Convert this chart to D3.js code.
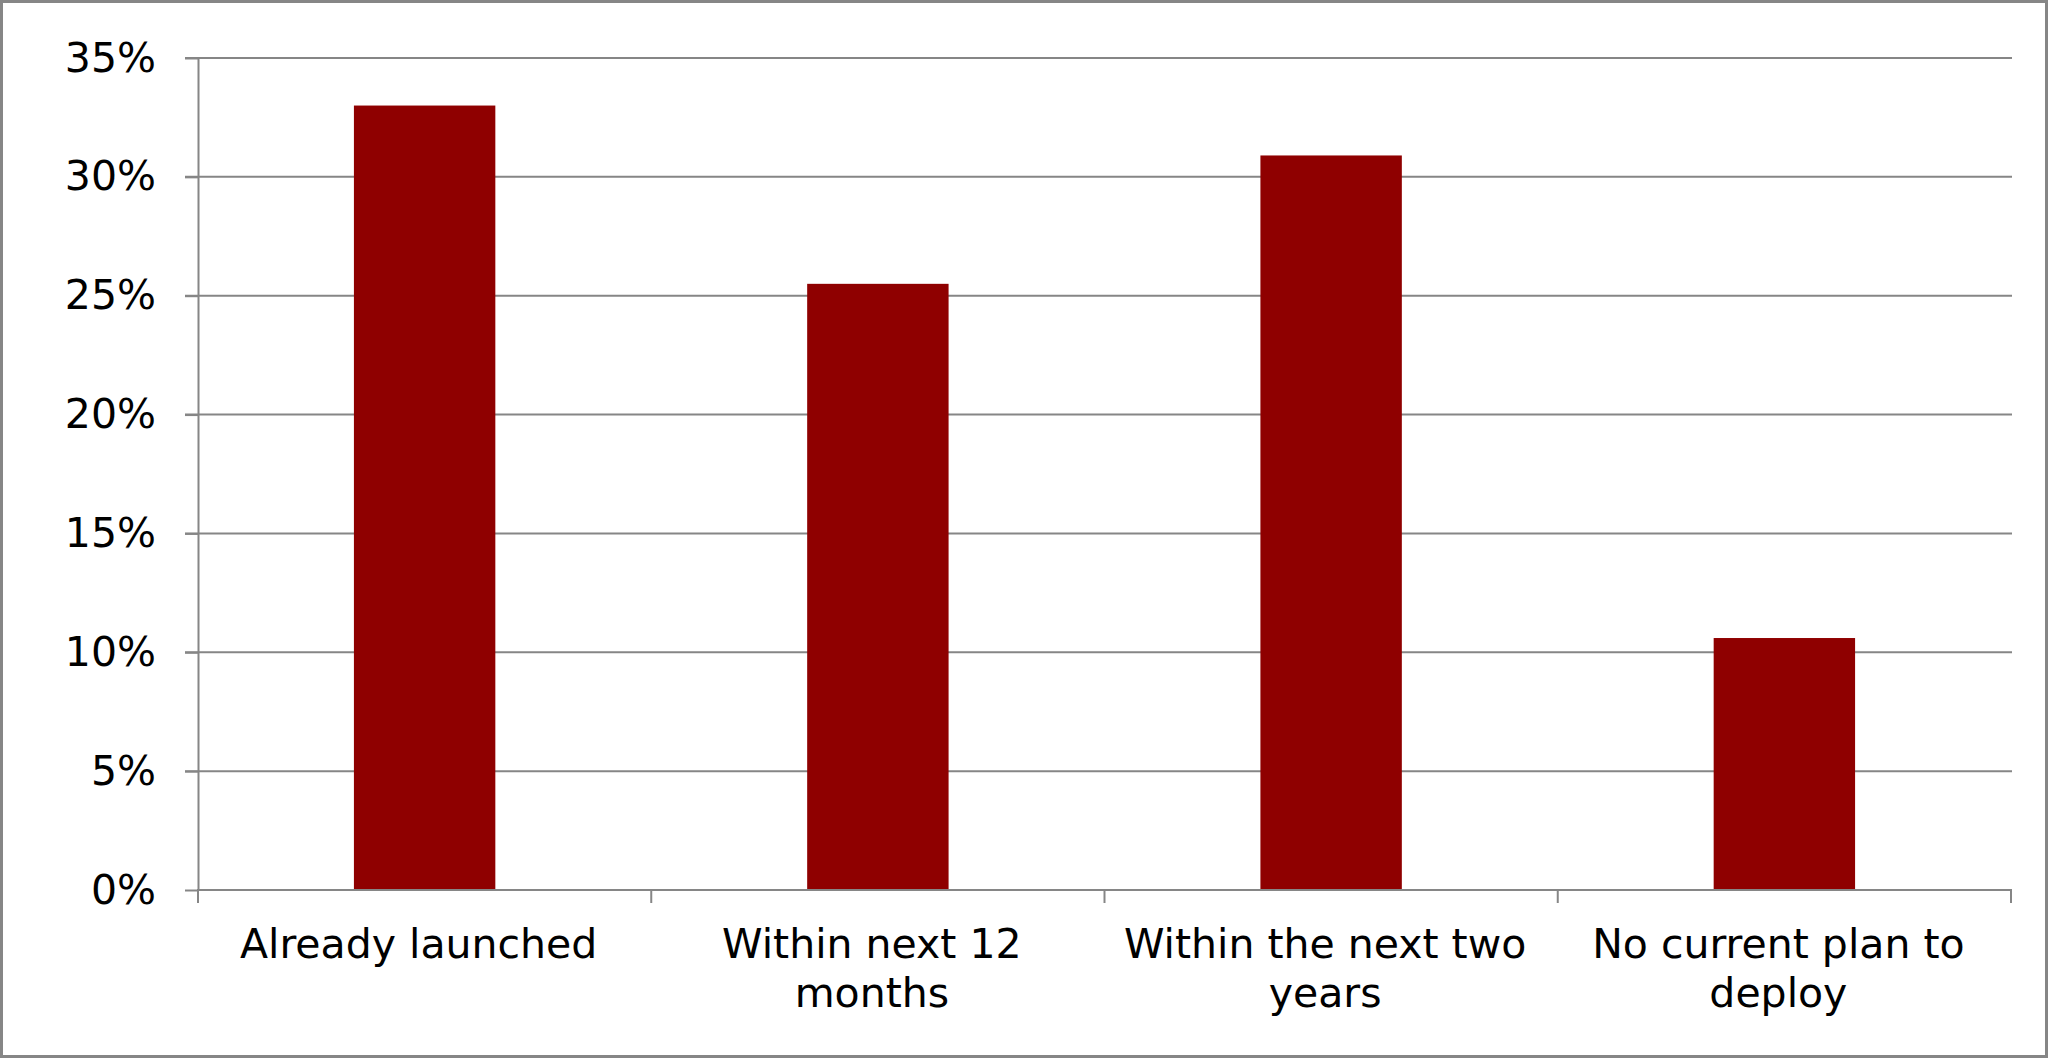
<!DOCTYPE html>
<html>
<head>
<meta charset="utf-8">
<script src="https://cdn.jsdelivr.net/npm/d3@7"></script>
<style>
  html, body { margin: 0; padding: 0; background: #fff; }
  svg { display: block; }
  text { font-family: "DejaVu Sans", Verdana, sans-serif; }
</style>
</head>
<body>
<svg id="chart" width="2048" height="1058"></svg>
<script>
// ---- data ----
const categories = ["Already launched", "Within next 12 months", "Within the next two years", "No current plan to deploy"];
const values = [33.0, 25.5, 30.9, 10.6];
const yTicks = [0, 5, 10, 15, 20, 25, 30, 35];
const yTickLabels = ["0%", "5%", "10%", "15%", "20%", "25%", "30%", "35%"];

(function () {
  // ---- layout ----
  const W = 2048, H = 1058;
  const pLeft = 198, pRight = 2011, pTop = 58, pBottom = 890;
  const gridColor = "#868686";
  const barColor = "#8f0000";
  const fontSize = 41;

  const svg = d3.select("#chart");

  // frame
  svg.append("rect")
    .attr("x", 1.5).attr("y", 1.5)
    .attr("width", W - 3).attr("height", H - 3)
    .attr("fill", "#fff").attr("stroke", "#868686").attr("stroke-width", 3);

  const x = d3.scaleBand().domain(categories).range([pLeft, pRight])
    .paddingInner(0.688).paddingOuter(0.344);
  const y = d3.scaleLinear().domain([0, 35]).range([pBottom, pTop]);

  // gridlines
  svg.append("g").selectAll("line").data(yTicks.filter(d => d > 0)).join("line")
    .attr("x1", pLeft - 13).attr("x2", pRight + 1)
    .attr("y1", d => y(d)).attr("y2", d => y(d))
    .attr("stroke", gridColor).attr("stroke-width", 2);

  // bars
  svg.append("g").selectAll("rect").data(values).join("rect")
    .attr("x", (d, i) => x(categories[i]))
    .attr("y", d => y(d))
    .attr("width", x.bandwidth())
    .attr("height", d => y(0) - y(d))
    .attr("fill", barColor);

  // y axis
  const yAxis = d3.axisLeft(y).tickValues(yTicks).tickSizeInner(13).tickSizeOuter(0)
    .tickPadding(29).tickFormat((d, i) => yTickLabels[i]);
  const gy = svg.append("g").attr("transform", `translate(${pLeft},0)`).call(yAxis);
  gy.select(".domain").attr("stroke", gridColor).attr("stroke-width", 2);
  gy.selectAll(".tick line").attr("stroke", gridColor).attr("stroke-width", 2);
  gy.selectAll(".tick text").attr("font-size", fontSize).attr("fill", "#000")
    .attr("font-family", "DejaVu Sans, Verdana, sans-serif");

  // x axis line
  svg.append("line").attr("x1", pLeft - 1).attr("x2", pRight + 1)
    .attr("y1", pBottom).attr("y2", pBottom)
    .attr("stroke", gridColor).attr("stroke-width", 2);

  // category boundary ticks
  const bx = categories.map((c, i) => pLeft + i * x.step()).concat([pRight]);
  svg.append("g").selectAll("line").data(bx).join("line")
    .attr("x1", d => d).attr("x2", d => d)
    .attr("y1", pBottom).attr("y2", pBottom + 13)
    .attr("stroke", gridColor).attr("stroke-width", 2);

  // category labels with wrapping
  const maxW = 440;
  const lblG = svg.append("g");
  categories.forEach((c) => {
    const cx = x(c) + x.bandwidth() / 2 - 6;
    const t = lblG.append("text")
      .attr("x", cx).attr("y", pBottom + 68)
      .attr("text-anchor", "middle")
      .attr("font-size", fontSize).attr("fill", "#000");
    const words = c.split(" ");
    let line = [];
    let ts = t.append("tspan").attr("x", cx).attr("dy", 0);
    words.forEach(w => {
      line.push(w);
      ts.text(line.join(" "));
      if (ts.node().getComputedTextLength() > maxW && line.length > 1) {
        line.pop();
        ts.text(line.join(" "));
        line = [w];
        ts = t.append("tspan").attr("x", cx).attr("dy", 49).text(w);
      }
    });
  });
})();
</script>
</body>
</html>
